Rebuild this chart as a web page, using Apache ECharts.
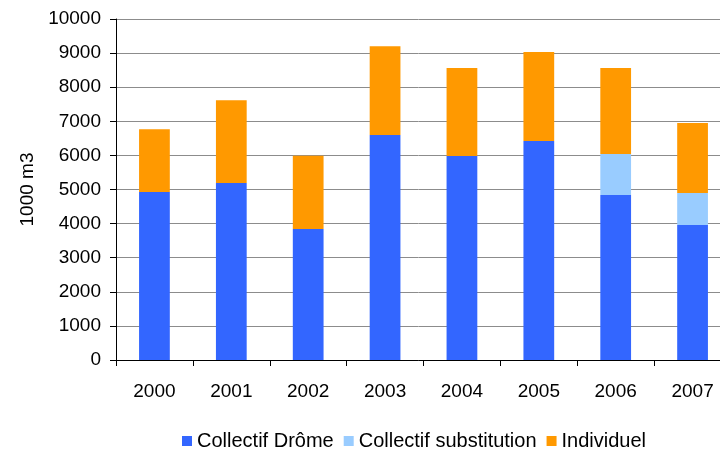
<!DOCTYPE html>
<html><head><meta charset="utf-8">
<script src="https://cdn.jsdelivr.net/npm/echarts@6/dist/echarts.min.js"></script>
<style>html,body{margin:0;padding:0;background:#fff;overflow:hidden}#c{width:720px;height:450px}</style>
</head><body><div id="c"></div>
<script>
const years = ['2000','2001','2002','2003','2004','2005','2006','2007'];
const collectifDrome = [4930, 5190, 3840, 6600, 5980, 6420, 4840, 3960];
const collectifSubstitution = [0, 0, 0, 0, 0, 0, 1200, 940];
const individuel = [1840, 2430, 2150, 2600, 2580, 2610, 2520, 2050];
const seriesNames = ['Collectif Drôme', 'Collectif substitution', 'Individuel'];
const colors = ['#3366FF', '#99CCFF', '#FF9900'];

const chart = echarts.init(document.getElementById('c'), null, {renderer:'canvas'});
const font = 'Liberation Sans, Arial, sans-serif';
const mk = (name, data, color) => ({
  name, type:'bar', stack:'s', data, barWidth:'40%',
  itemStyle:{color}, emphasis:{disabled:true}
});
chart.setOption({
  animation:false,
  textStyle:{fontFamily:font},
  grid:{left:116, width:615, top:19, height:341, containLabel:false, outerBoundsMode:'none'},
  legend:{
    top:426, left:177, itemWidth:10, itemHeight:10, itemGap:10,
    icon:'rect',
    textStyle:{fontFamily:font, fontSize:20, color:'#000'},
    data:seriesNames
  },
  xAxis:{
    type:'category', data:years,
    axisLine:{lineStyle:{color:'#000'}},
    axisTick:{show:true, length:6, lineStyle:{color:'#000'}},
    axisLabel:{fontFamily:font, fontSize:19, color:'#000', margin:22}
  },
  yAxis:{
    type:'value', min:0, max:10000, interval:1000,
    name:'1000 m3', nameLocation:'middle', nameRotate:90, nameGap:78,
    nameTextStyle:{fontFamily:font, fontSize:19, color:'#000'},
    axisLine:{show:true, lineStyle:{color:'#000'}},
    axisTick:{show:true, length:6, lineStyle:{color:'#000'}},
    axisLabel:{fontFamily:font, fontSize:19, color:'#000', margin:15, formatter:v=>String(v)},
    splitLine:{lineStyle:{color:'#8c8c8c', width:1}}
  },
  series:[
    mk(seriesNames[0], collectifDrome, colors[0]),
    mk(seriesNames[1], collectifSubstitution, colors[1]),
    mk(seriesNames[2], individuel, colors[2])
  ]
});
</script></body></html>
